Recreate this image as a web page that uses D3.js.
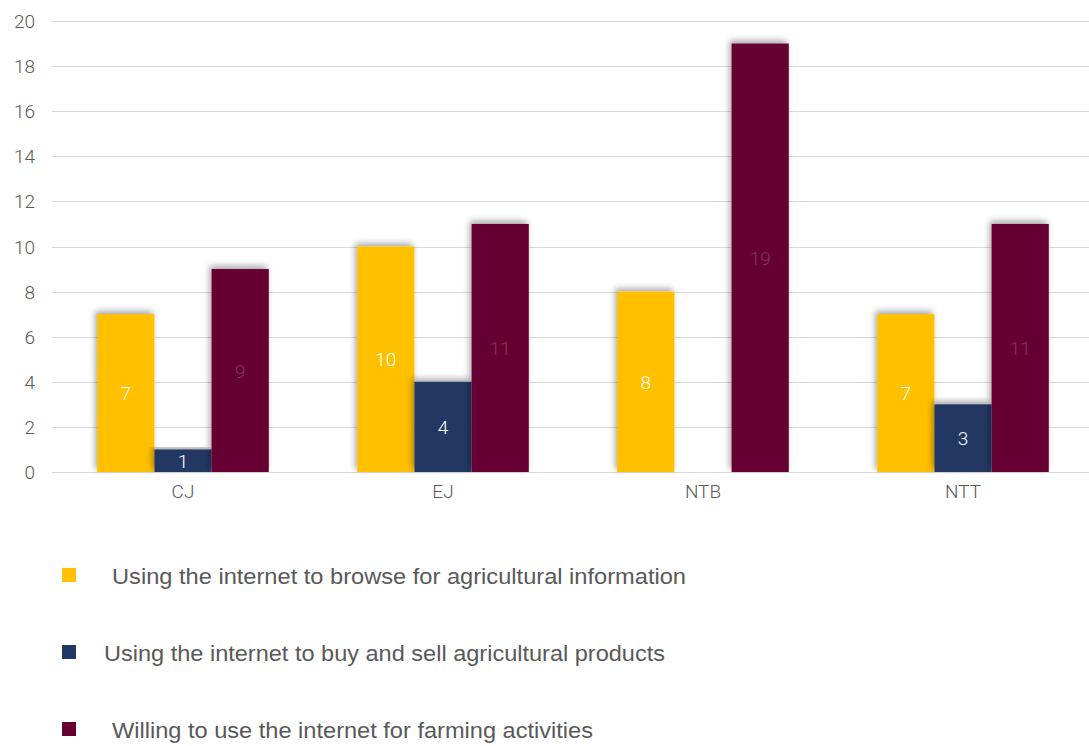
<!DOCTYPE html>
<html>
<head>
<meta charset="utf-8">
<script src="https://cdn.jsdelivr.net/npm/d3@7"></script>
<style>
  body { margin: 0; background: #fff; }
  svg { display: block; }
</style>
</head>
<body>
<div id="chart"></div>
<script>
// data
var regions = ["CJ", "EJ", "NTB", "NTT"];
var seriesNames = [
  "Using the internet to browse for agricultural information",
  "Using the internet to buy and sell agricultural products",
  "Willing to use the internet for farming activities"
];
var browseInfo = [7, 10, 8, 7];
var buySell = [1, 4, 0, 3];
var willing = [9, 11, 19, 11];
var yTicks = [0, 2, 4, 6, 8, 10, 12, 14, 16, 18, 20];

var colors = ["#FFC000", "#203864", "#660033"];
var labelColors = ["#ffffff", "#ffffff", "#7d3a58"];

var width = 1089, height = 746;
var tickFont = "Roboto, 'Open Sans', sans-serif";

var svg = d3.select("#chart")
  .append("svg")
    .attr("width", width)
    .attr("height", height);

// soft shadow like the original
var defs = svg.append("defs");
var f = defs.append("filter").attr("id", "shadow")
  .attr("x", "-20%").attr("y", "-10%").attr("width", "140%").attr("height", "120%");
f.append("feDropShadow")
  .attr("dx", -2).attr("dy", -3)
  .attr("stdDeviation", 3)
  .attr("flood-color", "#000")
  .attr("flood-opacity", 0.35);

var y = d3.scaleLinear()
  .domain([0, 20])
  .range([472, 21]);

var x = d3.scaleBand()
  .domain(regions)
  .range([53, 1093])
  .paddingInner(0.34)
  .paddingOuter(0.17);

var sub = d3.scaleBand()
  .domain([0, 1, 2])
  .range([0, x.bandwidth()]);

// gridlines
svg.append("g")
  .selectAll("line")
  .data(yTicks)
  .enter()
  .append("line")
    .attr("x1", 52)
    .attr("x2", width)
    .attr("y1", function (d) { return Math.round(y(d)) + 0.5; })
    .attr("y2", function (d) { return Math.round(y(d)) + 0.5; })
    .style("stroke", "#d9d9d9")
    .style("stroke-width", 1.2);

// y labels
svg.append("g")
  .selectAll("text")
  .data(yTicks)
  .enter()
  .append("text")
    .attr("x", 35)
    .attr("y", function (d) { return y(d) + 7; })
    .attr("text-anchor", "end")
    .style("font-family", tickFont)
    .style("font-weight", 300)
    .style("font-size", "19px")
    .style("fill", "#595959")
    .text(function (d) { return d; });

// bars
var rows = regions.map(function (r, i) {
  return { region: r, values: [browseInfo[i], buySell[i], willing[i]] };
});

var groups = svg.append("g")
  .selectAll("g")
  .data(rows)
  .enter()
  .append("g")
    .attr("transform", function (d) { return "translate(" + x(d.region) + ",0)"; });

groups.selectAll("rect")
  .data(function (d) { return d.values.map(function (v, k) { return { k: k, v: v }; }); })
  .enter()
  .append("rect")
    .filter(function (d) { return d.v > 0; })
    .attr("x", function (d) { return sub(d.k); })
    .attr("y", function (d) { return y(d.v); })
    .attr("width", sub.bandwidth())
    .attr("height", function (d) { return y(0) - y(d.v); })
    .attr("filter", "url(#shadow)")
    .style("fill", function (d) { return colors[d.k]; });

groups.selectAll("text")
  .data(function (d) { return d.values.map(function (v, k) { return { k: k, v: v }; }); })
  .enter()
  .append("text")
    .filter(function (d) { return d.v > 0; })
    .attr("x", function (d) { return sub(d.k) + sub.bandwidth() / 2; })
    .attr("y", function (d) { return (y(d.v) + y(0)) / 2 + 7; })
    .attr("text-anchor", "middle")
    .style("font-family", tickFont)
    .style("font-weight", 300)
    .style("font-size", "19px")
    .style("fill", function (d) { return labelColors[d.k]; })
    .text(function (d) { return d.v; });

// category labels
svg.append("g")
  .selectAll("text")
  .data(regions)
  .enter()
  .append("text")
    .attr("x", function (d) { return x(d) + x.bandwidth() / 2; })
    .attr("y", 498)
    .attr("text-anchor", "middle")
    .style("font-family", tickFont)
    .style("font-weight", 300)
    .style("font-size", "19px")
    .style("fill", "#595959")
    .text(function (d) { return d; });

// legend
var legendY = [575, 652, 729];
var legendTextX = [112, 104, 112];
var legendTextEnd = [686, 665, 593];
var legend = svg.append("g")
  .selectAll("g")
  .data(seriesNames)
  .enter()
  .append("g")
    .attr("transform", function (d, i) { return "translate(62," + legendY[i] + ")"; });

legend.append("rect")
    .attr("x", 0)
    .attr("y", -7)
    .attr("width", 14)
    .attr("height", 14)
    .style("fill", function (d, i) { return colors[i]; });

legend.append("text")
    .attr("x", function (d, i) { return legendTextX[i] - 62; })
    .attr("y", 9)
    .attr("textLength", function (d, i) { return legendTextEnd[i] - legendTextX[i]; })
    .attr("lengthAdjust", "spacingAndGlyphs")
    .style("font-family", "Arial, 'Liberation Sans', sans-serif")
    .style("font-size", "22px")
    .style("fill", "#595959")
    .text(function (d) { return d; });
</script>
</body>
</html>
